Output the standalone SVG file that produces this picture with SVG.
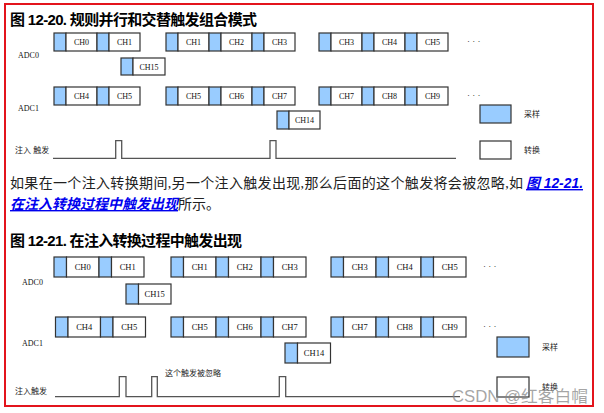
<svg xmlns="http://www.w3.org/2000/svg" width="604" height="413" viewBox="0 0 604 413">
<style>
.s{fill:#99CCFF;stroke:#333;stroke-width:1.2}
.w{fill:#fff;stroke:#333;stroke-width:1.2}
.ch{font-family:"Liberation Serif",serif;font-size:8px;fill:#111;text-anchor:middle}
.ch2{font-family:"Liberation Serif",serif;font-size:8.5px;fill:#111;text-anchor:middle}
.adc{font-family:"Liberation Serif",serif;font-size:8px;fill:#111}
.cn{font-family:"Liberation Sans","Noto Sans CJK SC",sans-serif;font-size:8px;fill:#222}
.ttl{font-family:"Liberation Sans","Noto Sans CJK SC",sans-serif;font-size:15px;font-weight:bold;fill:#000}
.p{font-family:"Liberation Serif","Noto Sans CJK SC",serif;font-size:14px;fill:#222}
.lk{font-family:"Liberation Sans","Noto Sans CJK SC",sans-serif;font-size:14px;font-weight:bold;font-style:italic;fill:#0000EE;text-decoration:underline}
.dots{font-family:"Liberation Serif",serif;font-size:9px;fill:#111}
.wave{fill:none;stroke:#555;stroke-width:1.3}
</style>
<rect x="0" y="0" width="604" height="413" fill="#fff"/>
<rect x="5" y="4" width="588" height="402" fill="none" stroke="#E3141C" stroke-width="2"/>

<text class="ttl" x="10" y="25" textLength="247" lengthAdjust="spacing">图 12-20. 规则并行和交替触发组合模式</text>

<!-- Figure 12-20 -->
<text class="adc" x="18" y="58">ADC0</text>
<text class="adc" x="18" y="111">ADC1</text>

<g id="f1-adc0-g1">
<rect class="s" x="54" y="33" width="12" height="18"/><rect class="w" x="66" y="33" width="31" height="18"/><text class="ch" x="81.5" y="45">CH0</text>
<rect class="s" x="97" y="33" width="12" height="18"/><rect class="w" x="109" y="33" width="31" height="18"/><text class="ch" x="124.5" y="45">CH1</text>
</g>
<g id="f1-adc0-g2">
<rect class="s" x="166" y="33" width="12" height="18"/><rect class="w" x="178" y="33" width="31" height="18"/><text class="ch" x="193.5" y="45">CH1</text>
<rect class="s" x="209" y="33" width="12" height="18"/><rect class="w" x="221" y="33" width="31" height="18"/><text class="ch" x="236.5" y="45">CH2</text>
<rect class="s" x="252" y="33" width="12" height="18"/><rect class="w" x="264" y="33" width="31" height="18"/><text class="ch" x="279.5" y="45">CH3</text>
</g>
<g id="f1-adc0-g3">
<rect class="s" x="319" y="33" width="12" height="18"/><rect class="w" x="331" y="33" width="31" height="18"/><text class="ch" x="346.5" y="45">CH3</text>
<rect class="s" x="362" y="33" width="12" height="18"/><rect class="w" x="374" y="33" width="31" height="18"/><text class="ch" x="389.5" y="45">CH4</text>
<rect class="s" x="405" y="33" width="12" height="18"/><rect class="w" x="417" y="33" width="31" height="18"/><text class="ch" x="432.5" y="45">CH5</text>
</g>
<text class="dots" x="467" y="44">· · ·</text>
<g id="f1-ch15">
<rect class="s" x="121" y="58" width="12" height="17"/><rect class="w" x="133" y="58" width="32" height="17"/><text class="ch" x="149" y="69.5">CH15</text>
</g>

<g id="f1-adc1-g1">
<rect class="s" x="54" y="87" width="12" height="18"/><rect class="w" x="66" y="87" width="31" height="18"/><text class="ch" x="81.5" y="99">CH4</text>
<rect class="s" x="97" y="87" width="12" height="18"/><rect class="w" x="109" y="87" width="31" height="18"/><text class="ch" x="124.5" y="99">CH5</text>
</g>
<g id="f1-adc1-g2">
<rect class="s" x="166" y="87" width="12" height="18"/><rect class="w" x="178" y="87" width="31" height="18"/><text class="ch" x="193.5" y="99">CH5</text>
<rect class="s" x="209" y="87" width="12" height="18"/><rect class="w" x="221" y="87" width="31" height="18"/><text class="ch" x="236.5" y="99">CH6</text>
<rect class="s" x="252" y="87" width="12" height="18"/><rect class="w" x="264" y="87" width="31" height="18"/><text class="ch" x="279.5" y="99">CH7</text>
</g>
<g id="f1-adc1-g3">
<rect class="s" x="319" y="87" width="12" height="18"/><rect class="w" x="331" y="87" width="31" height="18"/><text class="ch" x="346.5" y="99">CH7</text>
<rect class="s" x="362" y="87" width="12" height="18"/><rect class="w" x="374" y="87" width="31" height="18"/><text class="ch" x="389.5" y="99">CH8</text>
<rect class="s" x="405" y="87" width="12" height="18"/><rect class="w" x="417" y="87" width="31" height="18"/><text class="ch" x="432.5" y="99">CH9</text>
</g>
<text class="dots" x="467" y="98">· · ·</text>
<g id="f1-ch14">
<rect class="s" x="277" y="111" width="12" height="18"/><rect class="w" x="289" y="111" width="31" height="18"/><text class="ch" x="304.5" y="123">CH14</text>
</g>

<g id="f1-legend">
<rect class="s" x="480" y="105" width="31" height="18"/><text class="cn" x="524" y="117">采样</text>
<rect class="w" x="480" y="141" width="31" height="18"/><text class="cn" x="524" y="153">转换</text>
</g>

<g id="f1-trigger">
<text class="cn" x="15" y="153">注入 触发</text>
<path class="wave" d="M53,158.3 H115.7 V140.7 H121.7 V158.3 H270 V140.7 H276 V158.3 H456"/>
</g>

<!-- paragraph -->
<text class="p" x="10" y="188" textLength="513" lengthAdjust="spacing">如果在一个注入转换期间,另一个注入触发出现,那么后面的这个触发将会被忽略,如</text>
<text class="lk" x="526" y="188" textLength="57" lengthAdjust="spacingAndGlyphs">图 12-21.</text>
<text class="lk" x="10" y="209" textLength="168" lengthAdjust="spacingAndGlyphs">在注入转换过程中触发出现</text>
<text class="p" x="178" y="209">所示。</text>

<text class="ttl" x="10" y="246" textLength="232" lengthAdjust="spacing">图 12-21. 在注入转换过程中触发出现</text>

<!-- Figure 12-21 -->
<text class="adc" x="22" y="285">ADC0</text>
<text class="adc" x="22" y="346">ADC1</text>

<g id="f2-adc0-g1">
<rect class="s" x="54" y="257" width="12.5" height="20"/><rect class="w" x="66.5" y="257" width="32.5" height="20"/><text class="ch2" x="82.7" y="270">CH0</text>
<rect class="s" x="99" y="257" width="12.5" height="20"/><rect class="w" x="111.5" y="257" width="32.5" height="20"/><text class="ch2" x="127.7" y="270">CH1</text>
</g>
<g id="f2-adc0-g2">
<rect class="s" x="171" y="257" width="12.5" height="20"/><rect class="w" x="183.5" y="257" width="32.5" height="20"/><text class="ch2" x="199.7" y="270">CH1</text>
<rect class="s" x="216" y="257" width="12.5" height="20"/><rect class="w" x="228.5" y="257" width="32.5" height="20"/><text class="ch2" x="244.7" y="270">CH2</text>
<rect class="s" x="261" y="257" width="12.5" height="20"/><rect class="w" x="273.5" y="257" width="32.5" height="20"/><text class="ch2" x="289.7" y="270">CH3</text>
</g>
<g id="f2-adc0-g3">
<rect class="s" x="331" y="257" width="12.5" height="20"/><rect class="w" x="343.5" y="257" width="32.5" height="20"/><text class="ch2" x="359.7" y="270">CH3</text>
<rect class="s" x="376" y="257" width="12.5" height="20"/><rect class="w" x="388.5" y="257" width="32.5" height="20"/><text class="ch2" x="404.7" y="270">CH4</text>
<rect class="s" x="421" y="257" width="12.5" height="20"/><rect class="w" x="433.5" y="257" width="32.5" height="20"/><text class="ch2" x="449.7" y="270">CH5</text>
</g>
<text class="dots" x="483" y="269">· · ·</text>
<g id="f2-ch15">
<rect class="s" x="126" y="284" width="12.5" height="20"/><rect class="w" x="138.5" y="284" width="32.5" height="20"/><text class="ch2" x="154.7" y="297">CH15</text>
</g>

<g id="f2-adc1-g1">
<rect class="s" x="55.5" y="317" width="12.5" height="20"/><rect class="w" x="68" y="317" width="32.5" height="20"/><text class="ch2" x="84.2" y="330">CH4</text>
<rect class="s" x="100.5" y="317" width="12.5" height="20"/><rect class="w" x="113" y="317" width="32.5" height="20"/><text class="ch2" x="129.2" y="330">CH5</text>
</g>
<g id="f2-adc1-g2">
<rect class="s" x="171" y="317" width="12.5" height="20"/><rect class="w" x="183.5" y="317" width="32.5" height="20"/><text class="ch2" x="199.7" y="330">CH5</text>
<rect class="s" x="216" y="317" width="12.5" height="20"/><rect class="w" x="228.5" y="317" width="32.5" height="20"/><text class="ch2" x="244.7" y="330">CH6</text>
<rect class="s" x="261" y="317" width="12.5" height="20"/><rect class="w" x="273.5" y="317" width="32.5" height="20"/><text class="ch2" x="289.7" y="330">CH7</text>
</g>
<g id="f2-adc1-g3">
<rect class="s" x="331" y="317" width="12.5" height="20"/><rect class="w" x="343.5" y="317" width="32.5" height="20"/><text class="ch2" x="359.7" y="330">CH7</text>
<rect class="s" x="376" y="317" width="12.5" height="20"/><rect class="w" x="388.5" y="317" width="32.5" height="20"/><text class="ch2" x="404.7" y="330">CH8</text>
<rect class="s" x="421" y="317" width="12.5" height="20"/><rect class="w" x="433.5" y="317" width="32.5" height="20"/><text class="ch2" x="449.7" y="330">CH9</text>
</g>
<text class="dots" x="483" y="329">· · ·</text>
<g id="f2-ch14">
<rect class="s" x="285" y="343" width="12.5" height="20"/><rect class="w" x="297.5" y="343" width="33" height="20"/><text class="ch2" x="314" y="356">CH14</text>
</g>

<g id="f2-legend">
<rect class="s" x="497" y="337" width="32" height="20"/><text class="cn" x="542" y="350">采样</text>
<rect class="w" x="497" y="377" width="32" height="20"/><text class="cn" x="542" y="390">转换</text>
</g>

<g id="f2-trigger">
<text class="cn" x="15" y="394">注入触发</text>
<text class="cn" x="165" y="376">这个触发被忽略</text>
<path class="wave" d="M55,396.7 H119.3 V376.7 H126 V396.7 H151.7 V376.7 H157.3 V396.7 H279.3 V376.7 H285.7 V396.7 H460"/>
</g>

<text x="452" y="402" textLength="136" lengthAdjust="spacingAndGlyphs" font-family="Liberation Sans, Noto Sans CJK SC, sans-serif" font-size="16" fill="#888" fill-opacity="0.75">CSDN @红客白帽</text>
</svg>
